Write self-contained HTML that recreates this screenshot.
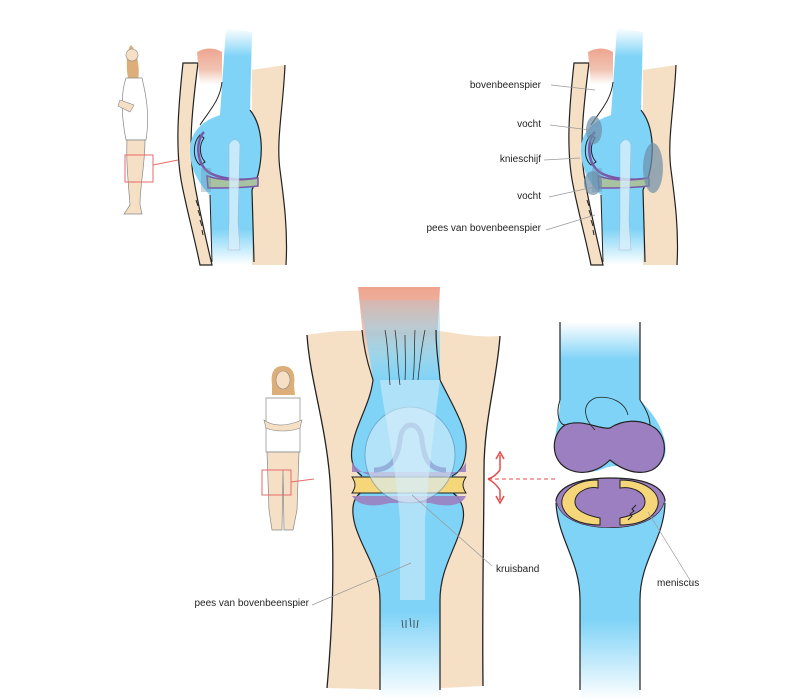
<!DOCTYPE html>
<html><head><meta charset="utf-8"><style>
html,body{margin:0;padding:0;background:#fff;}
svg{display:block;}
text{font-family:"Liberation Sans",Arial,sans-serif;font-size:10px;fill:#222;}
</style></head><body>
<svg width="800" height="700" viewBox="0 0 800 700" xmlns="http://www.w3.org/2000/svg">
<defs>
<linearGradient id="bv" x1="0" y1="0" x2="0" y2="1">
<stop offset="0" stop-color="#7fd3f7" stop-opacity="0"/>
<stop offset="0.12" stop-color="#7fd3f7"/>
<stop offset="0.85" stop-color="#7fd3f7"/>
<stop offset="1" stop-color="#7fd3f7" stop-opacity="0"/>
</linearGradient>
<linearGradient id="bk" x1="0" y1="0" x2="0" y2="1">
<stop offset="0" stop-color="#7fd3f7" stop-opacity="0.2"/>
<stop offset="0.2" stop-color="#7fd3f7"/>
<stop offset="0.78" stop-color="#7fd3f7"/>
<stop offset="1" stop-color="#7fd3f7" stop-opacity="0"/>
</linearGradient>
<linearGradient id="bvb" x1="0" y1="0" x2="0" y2="1">
<stop offset="0" stop-color="#7fd3f7"/>
<stop offset="0.6" stop-color="#7fd3f7"/>
<stop offset="1" stop-color="#7fd3f7" stop-opacity="0"/>
</linearGradient>
<linearGradient id="bvt" x1="0" y1="0" x2="0" y2="1">
<stop offset="0" stop-color="#7fd3f7" stop-opacity="0"/>
<stop offset="0.25" stop-color="#7fd3f7"/>
<stop offset="1" stop-color="#7fd3f7"/>
</linearGradient>
<linearGradient id="mus" x1="0" y1="0" x2="0" y2="1">
<stop offset="0" stop-color="#eea48f"/>
<stop offset="0.6" stop-color="#eeb5a0" stop-opacity="0.8"/>
<stop offset="1" stop-color="#f3c9b5" stop-opacity="0"/>
</linearGradient>
<g id="topknee">
<path d="M183,63 C178,110 175,150 182,185 C188,215 195,240 200,265 L212,265 C205,235 198,205 194,180 C188,150 192,110 198,63 Z" fill="#f5dfc5" stroke="#222" stroke-width="1.2"/>
<path d="M252,70 L285,65 C283,110 276,140 280,170 C284,200 288,230 286,265 L252,265 Z" fill="#f5dfc5"/>
<path d="M285,65 C283,110 276,140 280,170 C284,200 288,230 286,265" fill="none" stroke="#222" stroke-width="1.2"/>
<path d="M197,52 Q210,45 222,52 L222,85 L200,85 Z" fill="url(#mus)"/>
<path d="M226,28 L252,32 L250,110 C262,125 264,150 258,175 L252,190 L255,265 L212,265 L210,195 C200,185 190,170 190,150 C190,130 205,120 220,115 Z" fill="url(#bv)"/>
<path d="M222,82 C220,100 210,110 200,125" fill="none" stroke="#222" stroke-width="1"/>
<path d="M250,110 C262,125 264,150 258,175 L252,190 L254,262" fill="none" stroke="#222" stroke-width="1.2"/>
<path d="M210,195 L212,262" fill="none" stroke="#222" stroke-width="1"/>
<path d="M200,135 C193,142 192,158 200,165 L205,162 C199,155 199,145 204,138 Z" fill="#7fd3f7" stroke="#222" stroke-width="1"/>
<path d="M204,132 C196,140 196,160 206,170 C214,178 240,182 258,178" fill="none" stroke="#7a58a8" stroke-width="2.5"/>
<path d="M207,176 C225,182 245,180 258,178 L258,186 C240,188 225,188 208,188 Z" fill="#a8c3a0" stroke="#7a58a8" stroke-width="1.5"/>
<path d="M206,168 L206,192" stroke="#6e8fa8" stroke-width="10" opacity="0.35"/>
<path d="M229,145 C232,138 238,138 240,145 L238,220 L240,250 L228,250 L229,220 Z" fill="#d8f0fb" opacity="0.8" stroke="#aac" stroke-width="0.5"/>
<path d="M196,200 l2,6 M198,210 l2,6 M200,220 l2,6 M202,230 l1,5" stroke="#222" stroke-width="1"/>
</g>
</defs>

<g>
<path d="M131,45 C126,50 126,68 128,78 L138,80 C140,70 138,52 131,45 Z" fill="#dcae7a"/>
<circle cx="132" cy="55" r="6" fill="#f5dfc5" stroke="#888" stroke-width="0.6"/>
<path d="M126,78 L142,78 C146,95 150,115 146,140 L126,140 C122,120 120,95 126,78 Z" fill="#fff" stroke="#888" stroke-width="0.7"/>
<path d="M120,100 L134,105 L130,112 L118,106 Z" fill="#f5dfc5" stroke="#888" stroke-width="0.6"/>
<path d="M127,140 L145,140 C145,165 140,185 140,205 L142,214 L124,214 L130,205 C128,180 126,160 127,140 Z" fill="#f5dfc5" stroke="#888" stroke-width="0.7"/>
<rect x="125" y="155" width="28" height="27" fill="none" stroke="#e96a6a" stroke-width="1"/>
<line x1="153" y1="165" x2="178" y2="160" stroke="#e96a6a" stroke-width="1"/>
</g>
<use href="#topknee"/>

<use href="#topknee" transform="translate(391,0)"/>
<ellipse cx="594" cy="130" rx="8" ry="14" fill="#6e8fa8" opacity="0.7"/>
<ellipse cx="593" cy="183" rx="9" ry="12" fill="#6e8fa8" opacity="0.7"/>
<ellipse cx="653" cy="168" rx="10" ry="25" fill="#6e8fa8" opacity="0.7"/>
<g stroke="#999" stroke-width="0.7" fill="none">
<line x1="551" y1="85" x2="595" y2="90"/>
<line x1="550" y1="125" x2="590" y2="130"/>
<line x1="544" y1="160" x2="580" y2="158"/>
<line x1="549" y1="197" x2="594" y2="187"/>
<line x1="546" y1="230" x2="595" y2="215"/>
</g>
<text x="541" y="88" text-anchor="end">bovenbeenspier</text>
<text x="541" y="127" text-anchor="end">vocht</text>
<text x="541" y="162" text-anchor="end">knieschijf</text>
<text x="541" y="199" text-anchor="end">vocht</text>
<text x="541" y="231" text-anchor="end">pees van bovenbeenspier</text>

<g>
<path d="M272,385 C270,370 276,366 283,366 C291,366 296,372 294,385 L295,395 L272,395 Z" fill="#dcae7a"/>
<ellipse cx="283" cy="380" rx="7" ry="9" fill="#f5dfc5" stroke="#888" stroke-width="0.6"/>
<path d="M266,398 L300,398 L300,452 L266,452 Z" fill="#fff" stroke="#888" stroke-width="0.7"/>
<path d="M264,420 C275,428 290,425 302,420 L300,428 C290,432 275,432 266,428 Z" fill="#f5dfc5" stroke="#888" stroke-width="0.6"/>
<path d="M267,452 L299,452 L297,510 L293,530 L284,530 L283,470 L282,530 L272,530 L269,510 Z" fill="#f5dfc5" stroke="#888" stroke-width="0.7"/>
<rect x="262" y="470" width="29" height="25" fill="none" stroke="#e96a6a" stroke-width="1"/>
<line x1="291" y1="482" x2="314" y2="479" stroke="#e96a6a" stroke-width="1"/>
</g>

<path d="M307,335 C320,333 340,330 362,331 L440,331 C460,334 480,338 500,336 C497,380 484,420 484,470 C484,520 482,600 483,686 L402,690 L327,688 C333,620 335,560 330,480 C325,420 310,380 307,335 Z" fill="#f5dfc5"/>
<rect x="380" y="590" width="60" height="110" fill="#fff"/>
<path d="M307,335 C310,380 325,420 330,480 C335,560 333,620 327,688" fill="none" stroke="#222" stroke-width="1.3"/>
<path d="M500,336 C497,380 484,420 484,470 C484,520 482,600 483,686" fill="none" stroke="#222" stroke-width="1.3"/>
<path d="M358,287 L440,287 L436,365 L366,365 Z" fill="url(#mus)"/>
<path d="M360,300 L440,300 L440,380 C455,410 468,430 466,450 C465,465 460,472 455,476 L455,492 C462,500 466,510 462,525 C455,550 440,570 440,600 L440,700 L380,700 L380,600 C380,570 362,550 355,525 C351,510 353,498 360,492 L360,476 C353,470 350,460 352,448 C355,425 370,405 373,380 Z" fill="url(#bk)"/>
<g fill="none" stroke="#222" stroke-width="1.2">
<path d="M362,330 C365,360 372,375 373,380 C370,405 355,425 352,448 C350,462 354,470 362,476"/>
<path d="M436,330 C436,355 440,372 440,380 C455,410 468,430 466,450 C465,465 460,472 452,476"/>
<path d="M362,492 C352,498 351,510 355,525 C362,550 380,570 380,600 L380,690"/>
<path d="M452,492 C462,500 466,510 462,525 C455,550 440,570 440,600 L440,690"/>
</g>
<path d="M352,462 C358,472 370,478 390,478 L430,478 C450,478 462,472 466,462 L466,472 L352,472 Z" fill="#9b7fc0" opacity="0.9"/>
<path d="M352,496 L466,496 C462,505 450,508 430,503 L390,503 C370,508 358,505 352,496 Z" fill="#9b7fc0" opacity="0.9"/>
<path d="M352,477 L466,477 C462,483 462,487 466,493 L352,493 C356,487 356,483 352,477 Z" fill="#f5d77a" stroke="#222" stroke-width="1"/>
<ellipse cx="410" cy="455" rx="45" ry="48" fill="#d7eefa" opacity="0.6" stroke="#6a8fb0" stroke-width="1"/>
<path d="M374,470 C390,470 398,460 400,440 C402,420 420,420 422,440 C424,460 430,470 446,470" fill="none" stroke="#8a9ad0" stroke-width="5" opacity="0.7"/>
<path d="M380,380 C385,420 395,460 400,520 L400,600 L425,600 L425,520 C430,460 435,420 440,380 Z" fill="#d7eefa" opacity="0.55"/>
<g stroke="#333" stroke-width="0.8" fill="none">
<path d="M385,330 C388,345 388,360 390,385"/><path d="M395,330 C398,350 397,365 400,385"/><path d="M405,335 C405,350 406,365 405,380"/><path d="M415,330 C414,350 415,365 413,380"/><path d="M425,330 C422,345 420,360 418,380"/>
<path d="M402,620 l1,8 M406,620 l0,8 M410,618 l1,9 M414,620 l0,8 M418,620 l-1,8"/>
</g>
<line x1="488" y1="479" x2="555" y2="479" stroke="#e94a4a" stroke-width="1" stroke-dasharray="4,3"/>
<path d="M500,470 C496,475 492,478 488,479 M500,470 L500,455 M496,459 L500,452 L504,459" fill="none" stroke="#e94a4a" stroke-width="1.5"/>
<path d="M500,490 C496,484 492,481 488,479 M500,490 L500,500 M496,496 L500,503 L504,496" fill="none" stroke="#e94a4a" stroke-width="1.5"/>
<path d="M560,322 L640,322 L640,400 C660,420 668,440 665,455 C660,470 645,472 630,468 C620,465 610,465 600,470 C585,475 560,470 555,455 C552,440 560,420 560,400 Z" fill="url(#bvt)"/>
<path d="M560,322 L560,400 M640,322 L640,400" stroke="#222" stroke-width="1.2"/>
<path d="M560,400 C555,415 560,425 565,425" stroke="#222" fill="none"/>
<path d="M640,400 C648,412 650,420 650,425" stroke="#222" fill="none"/>
<path d="M565,425 C582,418 600,430 610,428 C622,420 640,418 655,428 C668,438 668,462 652,470 C638,476 622,470 610,460 C600,470 585,476 570,470 C550,462 550,435 565,425 Z" fill="#9b7fc0" stroke="#222" stroke-width="1.2"/>
<path d="M595,430 C585,420 580,405 595,398 C610,395 625,402 628,415" fill="none" stroke="#222" stroke-width="0.8"/>
<path d="M556,500 C560,482 590,478 610,478 C635,478 662,482 665,500 C662,518 640,528 610,528 C585,528 558,520 556,500 Z" fill="#9b7fc0" stroke="#222" stroke-width="1.2"/>
<path d="M556,500 C556,540 580,560 580,600 L580,700 L640,700 L640,600 C640,560 665,535 665,500 C662,518 640,528 610,528 C585,528 558,520 556,500 Z" fill="url(#bvb)"/>
<path d="M556,503 C558,540 580,560 580,600 L580,690 M665,503 C664,540 640,560 640,600 L640,690" fill="none" stroke="#222" stroke-width="1.2"/>
<path d="M598,480 C575,480 560,492 562,505 C565,518 580,525 600,525 L600,518 C585,515 575,510 575,502 C575,492 588,486 598,488 Z" fill="#f5d77a" stroke="#222" stroke-width="1"/>
<path d="M620,480 C645,480 660,492 658,505 C655,518 640,525 620,525 L620,518 C635,515 645,510 645,502 C645,492 632,486 620,488 Z" fill="#f5d77a" stroke="#222" stroke-width="1"/>
<path d="M628,520 l4,-4 l-2,-2 l4,-3 l-2,-2 l4,-4" fill="none" stroke="#222" stroke-width="1"/>
<g stroke="#999" stroke-width="0.7" fill="none">
<line x1="412" y1="495" x2="492" y2="566"/>
<line x1="648" y1="512" x2="693" y2="585"/>
<line x1="312" y1="605" x2="411" y2="563"/>
</g>
<text x="496" y="572">kruisband</text>
<text x="657" y="586">meniscus</text>
<text x="309" y="606" text-anchor="end">pees van bovenbeenspier</text>
</svg>
</body></html>
